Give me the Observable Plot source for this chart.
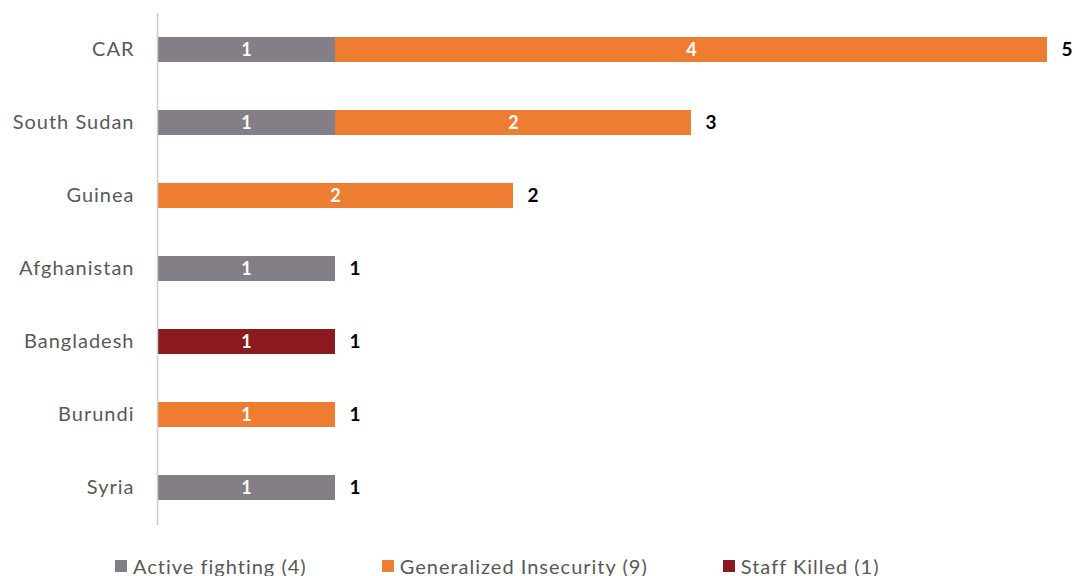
<!DOCTYPE html>
<html>
<head>
<meta charset="utf-8">
<script src="https://cdn.jsdelivr.net/npm/d3@7"></script>
<script src="https://cdn.jsdelivr.net/npm/@observablehq/plot@0.6"></script>
<style>
  html, body { margin: 0; padding: 0; background: #fff; }
  body { width: 1075px; height: 576px; overflow: hidden; font-family: Lato, "Open Sans", sans-serif; }
  #legend { display: flex; align-items: center; padding-left: 115px; margin-top: 25px; font-size: 20px; letter-spacing: 1px; color: #595959; line-height: 22px; }
  #legend .item { display: flex; align-items: center; margin-right: 75px; }
  #legend .sw { width: 12px; height: 12px; margin-right: 6px; }
  #chart svg g[aria-label="y-axis tick label"] text { letter-spacing: 1px; }
</style>
</head>
<body>
<div id="chart"></div>
<div id="legend"></div>
<script>
const countries = ["CAR", "South Sudan", "Guinea", "Afghanistan", "Bangladesh", "Burundi", "Syria"];
const causes = ["Active fighting", "Generalized Insecurity", "Staff Killed"];
const causeCounts = [4, 9, 1];
const colors = ["#847E87", "#ED7D31", "#8B1A1F"];
const activeFighting = [1, 1, 0, 1, 0, 0, 1];
const generalizedInsecurity = [4, 2, 2, 0, 0, 1, 0];
const staffKilled = [0, 0, 0, 0, 1, 0, 0];

const series = [activeFighting, generalizedInsecurity, staffKilled];
const data = [];
countries.forEach((c, i) => {
  causes.forEach((k, j) => {
    if (series[j][i] > 0) data.push({country: c, cause: k, value: series[j][i]});
  });
});
const totals = countries.map((c, i) => ({country: c, total: activeFighting[i] + generalizedInsecurity[i] + staffKilled[i]}));

const chart = Plot.plot({
  width: 1075,
  height: 530,
  marginLeft: 157,
  marginRight: 28,
  marginTop: 13,
  marginBottom: 5,
  style: {fontFamily: "Lato, 'Open Sans', sans-serif", background: "#fff"},
  x: {domain: [0, 5], axis: null},
  y: {domain: countries, paddingInner: 0.654, paddingOuter: 0.324, label: null},
  color: {domain: causes, range: colors},
  marks: [
    Plot.barX(data, Plot.stackX({x: "value", y: "country", fill: "cause", order: causes})),
    Plot.ruleX([0], {stroke: "#cfcfcf", strokeWidth: 1.5}),
    Plot.axisY({tickSize: 0, tickPadding: 23, fontSize: 20, fill: "#595959", label: null}),
    Plot.text(data, Plot.stackX({x: "value", y: "country", z: "cause", order: causes, text: "value", fill: "white", fontSize: 18, fontWeight: "bold"})),
    Plot.text(totals, {x: "total", y: "country", text: "total", textAnchor: "start", dx: 14, fontSize: 19, fontWeight: "bold", fill: "#000"})
  ]
});
document.getElementById("chart").appendChild(chart);

const legend = document.getElementById("legend");
causes.forEach((k, j) => {
  const item = document.createElement("div");
  item.className = "item";
  const sw = document.createElement("span");
  sw.className = "sw";
  sw.style.background = colors[j];
  const t = document.createElement("span");
  t.textContent = `${k} (${causeCounts[j]})`;
  item.appendChild(sw);
  item.appendChild(t);
  legend.appendChild(item);
});
</script>
</body>
</html>
